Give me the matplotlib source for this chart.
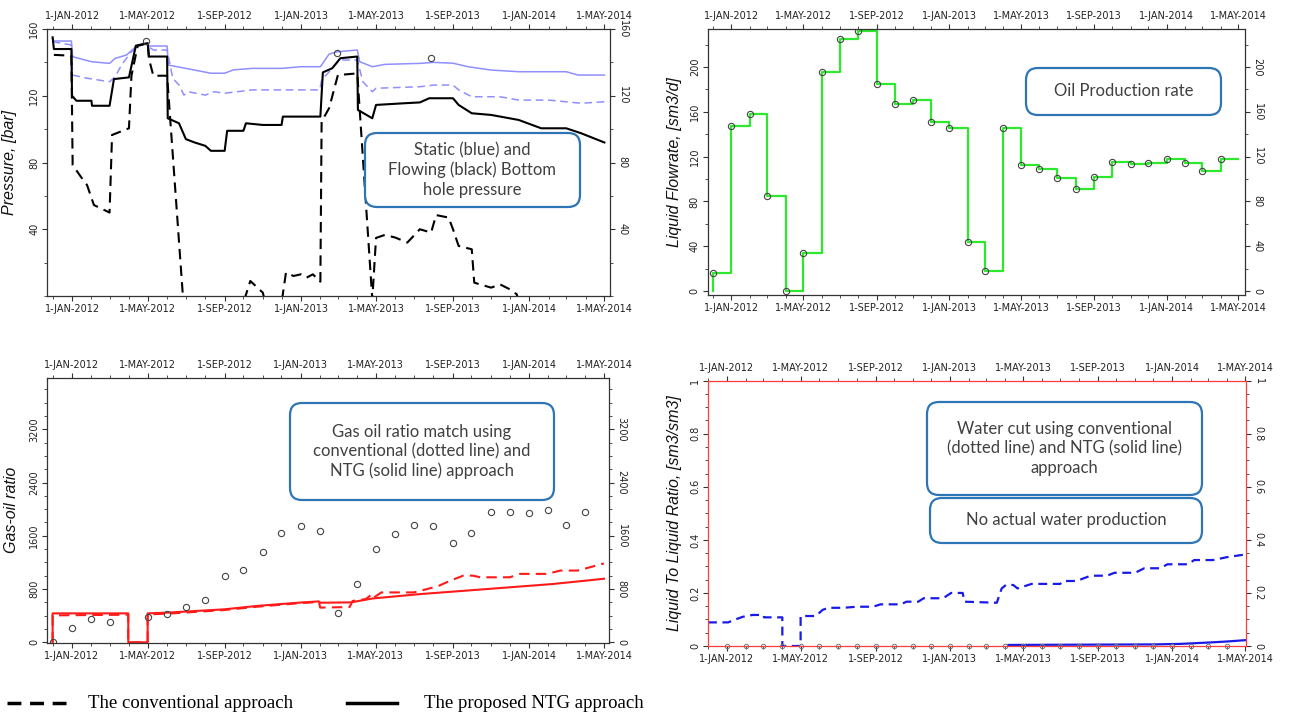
import numpy as np
import pandas as pd
import matplotlib
matplotlib.use("Agg")
import matplotlib.pyplot as plt
import matplotlib.dates as mdates
from matplotlib.ticker import MultipleLocator, FixedLocator, FuncFormatter
from matplotlib.patches import FancyBboxPatch
from matplotlib.lines import Line2D
from matplotlib.transforms import IdentityTransform

W, H = 1299, 714

# ---------------- data: bottom hole pressure (bar) ----------------
bhp_ntg_dates = ["2011-12-01", "2011-12-03", "2011-12-31", "2012-01-01", "2012-01-08", "2012-02-01",
                 "2012-02-02", "2012-03-01", "2012-03-08", "2012-04-01", "2012-04-12", "2012-05-01",
                 "2012-05-03", "2012-06-01", "2012-06-02", "2012-06-20", "2012-07-01", "2012-07-15",
                 "2012-08-01", "2012-08-10", "2012-09-01", "2012-09-05", "2012-10-01", "2012-10-05",
                 "2012-11-01", "2012-12-01", "2012-12-03", "2013-02-01", "2013-02-05", "2013-02-20",
                 "2013-03-05", "2013-04-01", "2013-04-02", "2013-04-25", "2013-05-01", "2013-06-15",
                 "2013-07-10", "2013-07-25", "2013-09-01", "2013-09-10", "2013-10-01", "2013-11-01",
                 "2013-12-15", "2014-01-20", "2014-03-01", "2014-03-25", "2014-05-01"]
bhp_ntg = [155, 148, 148, 120, 117, 117,
           114, 114, 130, 131, 150, 151.5,
           143.5, 143.5, 106.5, 103.5, 94, 92,
           90, 87, 87, 99, 99, 103.5,
           102.5, 102.5, 107.5, 107.5, 134, 136.5,
           142.5, 143.5, 111.5, 106.5, 114.5, 115.5,
           116, 118.5, 118.5, 114.5, 109.5, 108.5,
           105.5, 100.5, 100.5, 97.5, 92]

bhp_conv_dates = ["2011-12-03", "2011-12-31", "2012-01-02", "2012-01-15", "2012-01-25", "2012-02-05",
                  "2012-03-01", "2012-03-05", "2012-04-01", "2012-04-05", "2012-04-15", "2012-05-01",
                  "2012-05-03", "2012-05-10", "2012-06-01", "2012-06-27", "2012-10-01", "2012-10-12",
                  "2012-11-01", "2012-11-05", "2012-12-01", "2012-12-08", "2012-12-20", "2013-01-01",
                  "2013-01-10", "2013-01-20", "2013-02-01", "2013-02-03", "2013-02-15", "2013-03-01",
                  "2013-04-01", "2013-04-25", "2013-05-01", "2013-05-15", "2013-06-01", "2013-06-20",
                  "2013-07-10", "2013-07-28", "2013-08-05", "2013-08-25", "2013-09-01", "2013-09-10",
                  "2013-10-01", "2013-10-05", "2013-11-01", "2013-11-15", "2013-12-01", "2013-12-12",
                  "2013-12-15"]
bhp_conv = [144.5, 144, 78.5, 71.5, 66.5, 54.5,
            50, 96.5, 100.5, 132, 150, 151.5,
            142, 132, 132, -4, -4, 9,
            2, -4, -4, 14, 12, 13,
            11, 13, 8.6, 104.5, 112.6, 132.4,
            133.4, -2, 34.8, 36.6, 35, 32,
            40, 38, 48.5, 47, 40, 30,
            28, 8, 5, 7, 4, 1,
            -4]

sbhp_ntg_dates = ["2011-12-01", "2011-12-03", "2011-12-31", "2012-01-02", "2012-02-01", "2012-03-01",
                  "2012-03-10", "2012-03-28", "2012-04-12", "2012-05-01", "2012-05-03", "2012-06-01",
                  "2012-06-03", "2012-07-01", "2012-08-10", "2012-09-01", "2012-09-15", "2012-10-15",
                  "2012-12-01", "2013-01-01", "2013-02-01", "2013-02-15", "2013-03-01", "2013-04-01",
                  "2013-04-05", "2013-04-25", "2013-05-15", "2013-07-10", "2013-08-01", "2013-09-01",
                  "2013-09-25", "2013-11-01", "2013-12-15", "2014-03-01", "2014-03-20", "2014-05-01"]
sbhp_ntg = [154.4, 152.8, 152.8, 143.4, 140.4, 139.4,
            142.4, 144.4, 149.4, 151.4, 149.8, 149.8,
            138.4, 136.4, 133.5, 133.5, 135.5, 136.4,
            136.4, 137.4, 137.4, 145, 146.4, 147.4,
            140.4, 137.4, 138.8, 139.4, 140, 139.5,
            137.4, 135.4, 134.4, 134.4, 132.4, 132.4]

sbhp_conv_dates = ["2011-12-01", "2011-12-31", "2012-01-02", "2012-01-25", "2012-03-01", "2012-03-10",
                   "2012-03-20", "2012-04-05", "2012-04-25", "2012-05-10", "2012-06-01", "2012-06-10",
                   "2012-06-20", "2012-06-28", "2012-07-05", "2012-08-01", "2012-08-15", "2012-09-01",
                   "2012-10-15", "2013-01-31", "2013-02-03", "2013-02-20", "2013-03-01", "2013-03-05",
                   "2013-04-01", "2013-04-10", "2013-04-25", "2013-05-01", "2013-07-10", "2013-08-01",
                   "2013-09-01", "2013-09-10", "2013-10-01", "2013-11-15", "2013-12-15", "2014-02-01",
                   "2014-03-25", "2014-05-01"]
sbhp_conv = [152.4, 150.4, 132.4, 130.5, 128.4, 131.4,
             138.4, 146.4, 151.4, 147.4, 147.4, 130.5,
             126.4, 120.4, 122.4, 120.4, 122.4, 121.5,
             123.5, 123.5, 129.4, 136.4, 140.4, 141.4,
             141.4, 128.4, 122.4, 124.5, 125.4, 126.4,
             126.4, 123.5, 119.4, 119.4, 117.4, 117.4,
             115.5, 116.4]

p_obs_dates = ["2012-04-29", "2013-02-28", "2013-07-28"]
p_obs = [152.8, 145.8, 142.4]

# ---------------- data: liquid rate (sm3/d), monthly ----------------
rate_dates = pd.date_range("2011-12-01", "2014-04-01", freq="MS")
rate_obs = [16.4, 147, 158, 85, 0, 34, 196, 225, 232, 184.5, 166.7, 171, 150.6,
            146, 44, 18, 146, 112.5, 109, 101, 90.8, 101.5, 115.5, 113.4, 114,
            118, 114, 107, 117.5]

# ---------------- data: gas-oil ratio ----------------
gor_ntg_dates = ["2011-12-01", "2011-12-01", "2012-03-31", "2012-03-31", "2012-05-01", "2012-05-01",
                 "2012-06-01", "2012-09-01", "2012-10-23", "2013-01-01", "2013-01-30", "2013-02-01",
                 "2013-03-22", "2013-04-26", "2013-07-10", "2013-10-25", "2014-02-08", "2014-05-01"]
gor_ntg = [0, 435, 435, 0, 0, 435,
           446, 496, 547, 598, 615, 595,
           600, 659, 724, 800, 876, 955]

gor_conv_dates = ["2011-12-01", "2011-12-01", "2012-03-31", "2012-03-31", "2012-05-01", "2012-05-01",
                  "2012-06-01", "2012-09-01", "2012-10-23", "2013-01-01", "2013-01-30", "2013-02-01",
                  "2013-03-20", "2013-03-25", "2013-04-15", "2013-04-25", "2013-04-28", "2013-05-10",
                  "2013-07-01", "2013-07-22", "2013-08-10", "2013-08-28", "2013-09-18", "2013-10-03",
                  "2013-10-15", "2013-12-01", "2013-12-18", "2014-01-30", "2014-02-20", "2014-03-20",
                  "2014-05-01"]
gor_conv = [0, 405, 415, 0, 0, 420,
            430, 485, 535, 590, 605, 522,
            530, 622, 650, 724, 674, 750,
            750, 800, 850, 926, 1002, 1002,
            977, 977, 1028, 1028, 1078, 1078,
            1185]

gor_obs_dates = ["2011-12-01", "2012-01-01", "2012-02-01", "2012-03-01", "2012-05-01", "2012-06-01",
                 "2012-07-01", "2012-08-01", "2012-09-01", "2012-10-01", "2012-11-01", "2012-12-01",
                 "2013-01-01", "2013-02-01", "2013-03-01", "2013-04-01", "2013-05-01", "2013-06-01",
                 "2013-07-01", "2013-08-01", "2013-09-01", "2013-10-01", "2013-11-01", "2013-12-01",
                 "2014-01-01", "2014-02-01", "2014-03-01", "2014-04-01"]
gor_obs = [0, 218, 345, 310, 380, 420,
           537, 638, 993, 1090, 1355, 1640,
           1740, 1665, 436, 876, 1397, 1620,
           1755, 1740, 1488, 1635, 1960, 1960,
           1950, 1995, 1755, 1955]

# ---------------- data: water cut ----------------
wct_conv_dates = ["2011-12-01", "2012-01-03", "2012-01-15", "2012-01-27", "2012-02-12", "2012-03-01",
                  "2012-03-02", "2012-04-01", "2012-04-01", "2012-05-01", "2012-05-01", "2012-05-26",
                  "2012-06-06", "2012-06-15", "2012-07-10", "2012-08-01", "2012-08-28", "2012-09-09",
                  "2012-10-12", "2012-10-22", "2012-11-10", "2012-11-19", "2012-12-21", "2013-01-03",
                  "2013-01-22", "2013-01-25", "2013-03-19", "2013-03-27", "2013-04-03", "2013-04-15",
                  "2013-04-22", "2013-05-15", "2013-07-01", "2013-07-06", "2013-07-28", "2013-08-20",
                  "2013-09-16", "2013-09-28", "2013-11-01", "2013-11-16", "2013-12-12", "2013-12-24",
                  "2014-01-27", "2014-02-06", "2014-03-09", "2014-04-01", "2014-05-01"]
wct_conv = [0.089, 0.089, 0.100, 0.110, 0.117, 0.117,
            0.108, 0.108, 0.0, 0.0, 0.113, 0.113,
            0.136, 0.144, 0.144, 0.148, 0.148, 0.157,
            0.157, 0.167, 0.167, 0.180, 0.180, 0.200,
            0.200, 0.167, 0.163, 0.217, 0.230, 0.230,
            0.217, 0.234, 0.234, 0.245, 0.245, 0.265,
            0.265, 0.276, 0.276, 0.293, 0.293, 0.308,
            0.308, 0.324, 0.324, 0.335, 0.345]

wct_ntg_dates = ["2013-04-07", "2013-12-01", "2014-01-15", "2014-03-01", "2014-04-01", "2014-05-01"]
wct_ntg = [0.004, 0.006, 0.008, 0.013, 0.017, 0.022]

wct_obs_dates = pd.date_range("2012-01-01", "2014-04-01", freq="MS")
wct_obs = [0.0] * len(wct_obs_dates)


def dt(lst):
    return pd.to_datetime(lst)


def date_label(x, pos):
    d = mdates.num2date(x)
    return f"{d.day}-{d.strftime('%b').upper()}-{d.year}"


def style(ax, xlim, ylim, yticks, yminor, spine_color="#333333"):
    ax.set_xlim(pd.Timestamp(xlim[0]), pd.Timestamp(xlim[1]))
    ax.set_ylim(*ylim)
    ax.xaxis.set_major_locator(mdates.MonthLocator(bymonth=[1, 5, 9]))
    ax.xaxis.set_minor_locator(mdates.MonthLocator())
    ax.xaxis.set_major_formatter(FuncFormatter(date_label))
    ax.yaxis.set_major_locator(FixedLocator(yticks))
    ax.yaxis.set_minor_locator(MultipleLocator(yminor))
    ax.yaxis.set_major_formatter(FuncFormatter(lambda v, p: f"{v:g}"))
    ax.tick_params(which="both", direction="out", top=True, right=True,
                   labeltop=True, labelright=True, labelsize=7, color="#333333",
                   labelcolor="#222222", pad=2)
    ax.tick_params(which="major", length=3.5, width=0.8)
    ax.tick_params(which="minor", length=2, width=0.6)
    for t in ax.yaxis.get_major_ticks():
        t.label1.set_rotation(90)
        t.label1.set_verticalalignment("center")
        t.label2.set_rotation(270)
        t.label2.set_verticalalignment("center")
    for s in ax.spines.values():
        s.set_color(spine_color)
        s.set_linewidth(0.9)


def label(ax, text, xpos):
    ax.set_ylabel(text, fontsize=11.5, style="italic", family="Liberation Sans", color="#111111")
    ax.yaxis.set_label_coords(xpos, 0.5)


def note(fig, x0, y0, x1, y1, text, fs=12):
    box = FancyBboxPatch((x0 + 10, H - y1 + 10), (x1 - x0) - 20, (y1 - y0) - 20,
                         boxstyle="round,pad=10,rounding_size=12",
                         transform=IdentityTransform(), facecolor="white",
                         edgecolor="#2E75B6", linewidth=1.6, zorder=5)
    fig.add_artist(box)
    fig.text((x0 + x1) / 2 / W, 1 - (y0 + y1) / 2 / H, text, ha="center", va="center",
             fontsize=fs, family="Lato", color="#404040", linespacing=1.25, zorder=6)


fig = plt.figure(figsize=(W / 100, H / 100), dpi=100)

dash = (0, (5, 3))
obs_style = dict(linestyle="none", marker="o", markersize=4.5, markerfacecolor="none",
                 markeredgecolor="#444444", markeredgewidth=0.8)

# ---- top left: pressure ----
ax1 = fig.add_axes([47 / W, 1 - 296 / H, 563 / W, 267 / H])
ax1.plot(dt(sbhp_ntg_dates), sbhp_ntg, color="#8F8FFF", lw=1.1)
ax1.plot(dt(sbhp_conv_dates), sbhp_conv, color="#8F8FFF", lw=1.1, linestyle=dash)
ax1.plot(dt(bhp_ntg_dates), bhp_ntg, color="black", lw=1.5)
ax1.plot(dt(bhp_conv_dates), bhp_conv, color="black", lw=1.5, linestyle=dash)
ax1.plot(dt(p_obs_dates), p_obs, **obs_style)
style(ax1, ("2011-11-22", "2014-05-10"), (0, 160), [40, 80, 120, 160], 20)
label(ax1, "Pressure, [bar]", -0.053)

# ---- top right: liquid rate ----
ax2 = fig.add_axes([707.5 / W, 1 - 295 / H, 537.5 / W, 266 / H])
step_x = list(rate_dates) + [pd.Timestamp("2014-05-01")]
step_y = rate_obs + [rate_obs[-1]]
ax2.plot([rate_dates[0]] + step_x, [0] + step_y, drawstyle="steps-post", color="#2EE82E", lw=1.6)
ax2.plot(rate_dates, rate_obs, **obs_style)
style(ax2, ("2011-11-22", "2014-05-12"), (-3.5, 234), [0, 40, 80, 120, 160, 200], 20)
label(ax2, "Liquid Flowrate, [sm3/d]", -0.047)

# ---- bottom left: gas-oil ratio ----
ax3 = fig.add_axes([47 / W, 1 - 643 / H, 562 / W, 265.3 / H])
ax3.plot(dt(gor_conv_dates), gor_conv, color="#FF1A1A", lw=1.5, linestyle=dash)
ax3.plot(dt(gor_ntg_dates), gor_ntg, color="#FF1A1A", lw=1.5)
ax3.plot(dt(gor_obs_dates), gor_obs, **obs_style)
style(ax3, ("2011-11-22", "2014-05-09"), (-10, 3975), [0, 800, 1600, 2400, 3200], 200)
label(ax3, "Gas-oil ratio", -0.05)

# ---- bottom right: water cut ----
ax4 = fig.add_axes([708 / W, 1 - 646 / H, 538 / W, 265.3 / H])
ax4.plot(dt(wct_conv_dates), wct_conv, color="#1A1AE6", lw=1.6, linestyle=(0, (4, 2.5)))
ax4.plot(dt(wct_ntg_dates), wct_ntg, color="#1A1AE6", lw=1.6)
ax4.plot(wct_obs_dates, wct_obs, linestyle="none", marker="o", markersize=3.2,
         markerfacecolor="none", markeredgecolor="#777777", markeredgewidth=0.7,
         clip_on=False, zorder=4)
style(ax4, ("2011-12-01", "2014-05-02"), (0, 1), [0, 0.2, 0.4, 0.6, 0.8, 1], 0.05,
      spine_color="#FF3B3B")
label(ax4, "Liquid To Liquid Ratio, [sm3/sm3]", -0.048)

# ---- annotation boxes ----
note(fig, 365, 133, 580, 207, "Static (blue) and\nFlowing (black) Bottom\nhole pressure")
note(fig, 1026, 68, 1221, 115, "Oil Production rate")
note(fig, 290, 403, 554, 500, "Gas oil ratio match using\nconventional (dotted line) and\nNTG (solid line) approach")
note(fig, 927, 402, 1202, 495, "Water cut using conventional\n(dotted line) and NTG (solid line)\napproach")
note(fig, 930, 498, 1202, 543, "No actual water production")

# ---- legend at bottom ----
fig.add_artist(Line2D([7 / W, 74 / W], [1 - 703 / H] * 2, color="black", lw=2.5,
                      linestyle=(0, (4, 2.5)), transform=fig.transFigure))
fig.add_artist(Line2D([347 / W, 397 / W], [1 - 703 / H] * 2, color="black", lw=2.5,
                      transform=fig.transFigure))
fig.text(88 / W, 1 - 703 / H, "The conventional approach", family="Liberation Serif",
         fontsize=13.5, va="center", ha="left")
fig.text(424 / W, 1 - 703 / H, "The proposed NTG approach", family="Liberation Serif",
         fontsize=13.5, va="center", ha="left")

fig.savefig("out.png", dpi=100)
